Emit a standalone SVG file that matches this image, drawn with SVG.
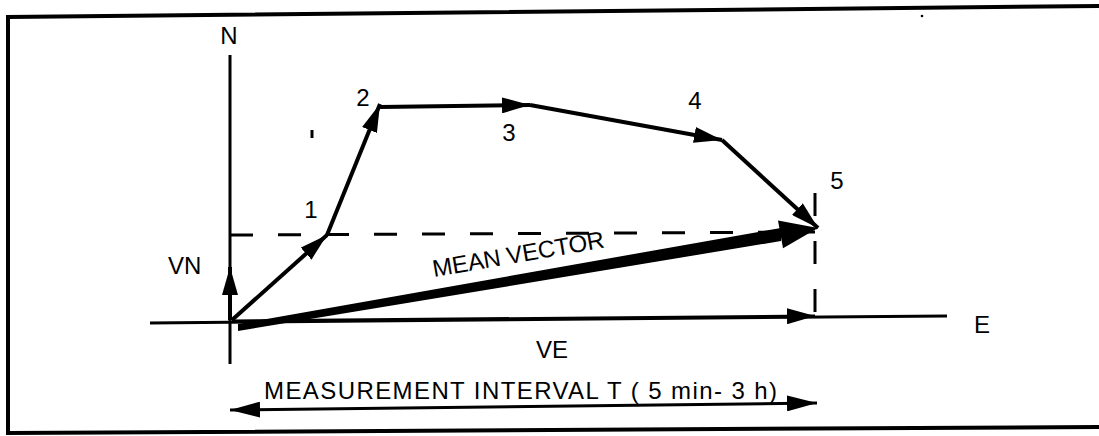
<svg xmlns="http://www.w3.org/2000/svg" width="1099" height="436" viewBox="0 0 1099 436">
  <style>
    .lbl { font-family: "Liberation Sans", "DejaVu Sans", sans-serif; font-size: 24px; fill: #000; }
    .axis { stroke: #000; stroke-width: 3; fill: none; }
    .vec { stroke: #000; stroke-width: 4; fill: none; marker-end: url(#ah); }
    .dash { stroke: #000; stroke-width: 3; fill: none; stroke-dasharray: 23 25; }
    .frame { stroke: #000; stroke-width: 4; fill: none; }
  </style>
  <defs>
    <marker id="ah" viewBox="0 0 28 16" refX="28" refY="8" markerWidth="28" markerHeight="16" markerUnits="userSpaceOnUse" orient="auto-start-reverse">
      <path d="M0,0 L28,8 L0,16 z" fill="#000"/>
    </marker>
    <marker id="ah2" viewBox="0 0 30 16" refX="30" refY="8" markerWidth="30" markerHeight="16" markerUnits="userSpaceOnUse" orient="auto-start-reverse">
      <path d="M0,0 L30,8 L0,16 z" fill="#000"/>
    </marker>
  </defs>
  <rect width="1099" height="436" fill="#fff"/>
  <g id="frame">
    <path class="frame" d="M1099 6 L8 17 L8 433 L1099 427"/>
    <circle cx="922" cy="16" r="1.3" fill="#000"/>
  </g>
  <g id="axes">
    <line class="axis" x1="230" y1="55" x2="230" y2="364"/>
    <line class="axis" x1="150" y1="323" x2="947" y2="316"/>
    <text class="lbl" x="229" y="44" text-anchor="middle">N</text>
    <text class="lbl" x="982" y="333" text-anchor="middle">E</text>
  </g>
  <g id="connectors">
    <path class="dash" d="M230 235 L815 232"/>
    <path class="dash" d="M815 193 L815 313" stroke-dasharray="24 14"/>
    <line x1="312" y1="130" x2="312" y2="138" stroke="#000" stroke-width="3"/>
    <line class="vec" x1="230" y1="320" x2="230" y2="267"/>
    <line class="vec" x1="232" y1="320" x2="327" y2="235"/>
    <line class="vec" x1="327" y1="235" x2="380" y2="104"/>
    <line class="vec" x1="380" y1="107" x2="530" y2="105"/>
    <line class="vec" x1="530" y1="105" x2="722" y2="140"/>
    <line class="vec" x1="722" y1="140" x2="818" y2="228"/>
    <line x1="232" y1="321" x2="815" y2="316" stroke="#000" stroke-width="3" marker-end="url(#ah)"/>
    <polygon points="238,324 781,228 781,241 238,331" fill="#000"/>
    <polygon points="818,228 778,220.6 783,248.2" fill="#000"/>
    <line x1="230" y1="410" x2="817" y2="403" stroke="#000" stroke-width="3" marker-start="url(#ah2)" marker-end="url(#ah2)"/>
  </g>
  <g id="labels">
    <text class="lbl" x="311" y="218" text-anchor="middle">1</text>
    <text class="lbl" x="363" y="106" text-anchor="middle">2</text>
    <text class="lbl" x="509" y="141" text-anchor="middle">3</text>
    <text class="lbl" x="695" y="109" text-anchor="middle">4</text>
    <text class="lbl" x="837" y="189" text-anchor="middle">5</text>
    <text class="lbl" x="168" y="274">VN</text>
    <text class="lbl" x="536" y="358">VE</text>
    <text class="lbl" transform="translate(434,277) rotate(-9.8)" textLength="174" lengthAdjust="spacing">MEAN VECTOR</text>
    <text class="lbl" x="264" y="399" font-size="27" textLength="513" lengthAdjust="spacing">MEASUREMENT INTERVAL  T ( 5 min- 3 h)</text>
  </g>
</svg>
